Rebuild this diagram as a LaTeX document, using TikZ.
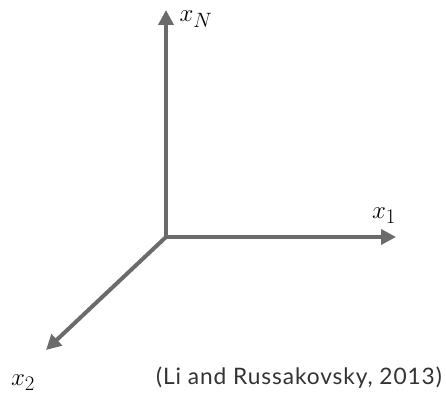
\documentclass[tikz,border=0pt]{standalone}
\usepackage{fontspec}
\newfontfamily\citefont{Lato}[LetterSpace=4]
\usepackage{tikz}
\usetikzlibrary{arrows.meta}

\begin{document}
\begin{tikzpicture}[
  x=1pt,y=1pt,
  axis/.style={draw=black!58,line width=4pt,-{Triangle[length=15pt,width=15pt]}},
  lbl/.style={font=\fontsize{30}{34}\selectfont,inner sep=0pt},
  cite/.style={font=\citefont\fontsize{22.7}{26}\selectfont,inner sep=0pt,text=black!80}
]
\useasboundingbox (0,0) rectangle (446,397);
\coordinate (o) at (166,160);
\coordinate (xn) at (166,387);
\coordinate (x1) at (396,160);
\coordinate (x2) at (46,47);

\draw[axis] (o) -- (xn);
\draw[axis] (o) -- (x1);
\draw[axis] (o) -- (x2);

\node[lbl] (ln) at (196,378) {$x_N$};
\node[lbl] (l1) at (384,181) {$x_1$};
\node[lbl] (l2) at (23,14) {$x_2$};
\node[cite,anchor=base west] (ref) at (156,13) {(Li and Russakovsky, 2013)};
\end{tikzpicture}
\end{document}
